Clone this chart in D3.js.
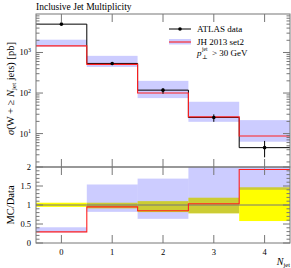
<!DOCTYPE html>
<html>
<head>
<meta charset="utf-8">
<script src="https://cdn.jsdelivr.net/npm/d3@7"></script>
<style>
  body { margin: 0; background: #fff; }
  svg { font-family: "Liberation Serif", "DejaVu Serif", serif; }
  .frame { fill: none; stroke: #777; stroke-width: 1; }
</style>
</head>
<body>
<svg id="chart" width="291" height="268"></svg>
<script>
// jet multiplicity bins
const bins = [0, 1, 2, 3, 4];
const binEdges = [-0.5, 0.5, 1.5, 2.5, 3.5, 4.5];

// ATLAS data [pb] and its error range
const dataVal = [5000, 537, 118, 25, 4.5];
const dataUp = [5300, 569, 130, 29.8, 6.6];
const dataDown = [4750, 489, 96, 19.5, 2.6];

// JH 2013 set2 prediction and its band
const mcVal = [1460, 510, 100, 25.8, 8.7];
const mcUp = [2070, 827, 200, 61, 21.5];
const mcDown = [1400, 440, 75, 19.5, 6.3];

const xTicks = [0, 1, 2, 3, 4];
const ratioTicks = [0, 0.5, 1, 1.5, 2];
const ratioTickLabels = ["0", "0.5", "1", "1.5", "2"];
const logMajor = [1, 2, 3];

const padL = 36, padR = 290, padT = 14, midY = 167, padB = 243;

const svg = d3.select("#chart");
const x = d3.scaleLinear().domain([-0.5, 4.5]).range([padL, padR]);
const yTop = d3.scaleLog().domain([1.5, 8900]).range([midY, padT]);
const yRat = d3.scaleLinear().domain([0, 2]).range([padB, midY]);

// clip paths
const defs = svg.append("defs");
defs.append("clipPath").attr("id", "clipTop").append("rect")
  .attr("x", padL).attr("y", padT).attr("width", padR - padL).attr("height", midY - padT);
defs.append("clipPath").attr("id", "clipRat").append("rect")
  .attr("x", padL).attr("y", midY).attr("width", padR - padL).attr("height", padB - midY);

const stepPts = (vals) => {
  const pts = vals.map((v, i) => [binEdges[i], v]);
  pts.push([binEdges[vals.length], vals[vals.length - 1]]);
  return pts;
};

// ---------- top panel ----------
const gTop = svg.append("g").attr("clip-path", "url(#clipTop)");

gTop.selectAll(".mcband").data(bins).enter().append("rect")
  .attr("x", (d, i) => x(binEdges[i]))
  .attr("width", (d, i) => x(binEdges[i + 1]) - x(binEdges[i]))
  .attr("y", (d, i) => yTop(mcUp[i]))
  .attr("height", (d, i) => yTop(mcDown[i]) - yTop(mcUp[i]))
  .attr("fill", "rgba(0,0,255,0.2)");

const lineTop = d3.line().x(d => x(d[0])).y(d => yTop(d[1])).curve(d3.curveStepAfter);

gTop.append("path").attr("d", lineTop(stepPts(dataVal)))
  .attr("fill", "none").attr("stroke", "#000").attr("stroke-width", 1);
gTop.append("path").attr("d", lineTop(stepPts(mcVal)))
  .attr("fill", "none").attr("stroke", "#ff2020").attr("stroke-width", 1.1);

gTop.selectAll(".err").data(bins).enter().append("line")
  .attr("x1", d => x(d)).attr("x2", d => x(d))
  .attr("y1", (d, i) => yTop(dataUp[i])).attr("y2", (d, i) => yTop(dataDown[i]))
  .attr("stroke", "#000");
gTop.selectAll(".pt").data(bins).enter().append("circle")
  .attr("cx", d => x(d)).attr("cy", (d, i) => yTop(dataVal[i])).attr("r", 1.8)
  .attr("fill", "#000");

// ---------- ratio panel ----------
const gRat = svg.append("g").attr("clip-path", "url(#clipRat)");

gRat.selectAll(".dband").data(bins).enter().append("rect")
  .attr("x", (d, i) => x(binEdges[i]))
  .attr("width", (d, i) => x(binEdges[i + 1]) - x(binEdges[i]))
  .attr("y", (d, i) => yRat(dataUp[i] / dataVal[i]))
  .attr("height", (d, i) => yRat(dataDown[i] / dataVal[i]) - yRat(dataUp[i] / dataVal[i]))
  .attr("fill", "#ffff00");

gRat.selectAll(".rband").data(bins).enter().append("rect")
  .attr("x", (d, i) => x(binEdges[i]))
  .attr("width", (d, i) => x(binEdges[i + 1]) - x(binEdges[i]))
  .attr("y", (d, i) => yRat(mcUp[i] / dataVal[i]))
  .attr("height", (d, i) => yRat(mcDown[i] / dataVal[i]) - yRat(mcUp[i] / dataVal[i]))
  .attr("fill", "rgba(0,0,255,0.2)");

gRat.append("line").attr("x1", padL).attr("x2", padR)
  .attr("y1", yRat(1)).attr("y2", yRat(1)).attr("stroke", "#777");

const lineRat = d3.line().x(d => x(d[0])).y(d => yRat(d[1])).curve(d3.curveStepAfter);
gRat.append("path").attr("d", lineRat(stepPts(mcVal.map((v, i) => v / dataVal[i]))))
  .attr("fill", "none").attr("stroke", "#ff2020").attr("stroke-width", 1.1);

// ---------- frames and ticks ----------
svg.append("rect").attr("class", "frame")
  .attr("x", padL).attr("y", padT).attr("width", padR - padL).attr("height", midY - padT);
svg.append("rect").attr("class", "frame")
  .attr("x", padL).attr("y", midY).attr("width", padR - padL).attr("height", padB - midY);

const tickG = svg.append("g").attr("stroke", "#777").attr("stroke-width", 1);
const tick = (x1, y1, x2, y2) => tickG.append("line")
  .attr("x1", x1).attr("y1", y1).attr("x2", x2).attr("y2", y2);

xTicks.forEach(t => {
  const xp = x(t);
  tick(xp, padT, xp, padT + 8);
  tick(xp, midY - 8, xp, midY + 8);
  tick(xp, padB, xp, padB - 8);
});

// log ticks
const [lo, hi] = yTop.domain();
for (let e = -1; e <= 4; e++) {
  for (let m = 1; m <= 9; m++) {
    const v = m * Math.pow(10, e);
    if (v < lo || v > hi) continue;
    const len = m === 1 ? 7 : 3.5;
    tick(padL, yTop(v), padL + len, yTop(v));
    tick(padR, yTop(v), padR - len, yTop(v));
  }
}
// ratio ticks
for (let k = 0; k <= 20; k++) {
  const v = k / 10;
  const len = k % 5 === 0 ? 7 : 3.5;
  tick(padL, yRat(v), padL + len, yRat(v));
  tick(padR, yRat(v), padR - len, yRat(v));
}

// ---------- labels ----------
const fs = 8.5;
const logLabels = svg.selectAll(".ylab").data(logMajor).enter().append("text")
  .attr("x", padL - 5).attr("y", d => yTop(Math.pow(10, d)) + 3)
  .attr("text-anchor", "end").attr("font-size", fs);
logLabels.append("tspan").text("10");
logLabels.append("tspan").attr("dy", -3.5).attr("font-size", 6).text(d => d);

svg.selectAll(".rlab").data(ratioTicks).enter().append("text")
  .attr("x", padL - 5).attr("y", d => yRat(d) + 3)
  .attr("text-anchor", "end").attr("font-size", fs)
  .text((d, i) => ratioTickLabels[i]);

svg.selectAll(".xlab").data(xTicks).enter().append("text")
  .attr("x", d => x(d)).attr("y", 255)
  .attr("text-anchor", "middle").attr("font-size", fs)
  .text(d => d);

const xl = svg.append("text").attr("x", padR).attr("y", 265)
  .attr("text-anchor", "end").attr("font-size", 10);
xl.append("tspan").attr("font-style", "italic").text("N");
xl.append("tspan").attr("dy", 2).attr("font-size", 6.5).text("jet");

svg.append("text").attr("x", padL).attr("y", 10).attr("font-size", 9.5)
  .text("Inclusive Jet Multiplicity");

const yl = svg.append("text").attr("transform", `translate(14,${(padT + midY) / 2 - 2}) rotate(-90)`)
  .attr("text-anchor", "middle").attr("font-size", 10.5);
yl.append("tspan").attr("font-style", "italic").text("σ");
yl.append("tspan").text("(W + ≥ ");
yl.append("tspan").attr("font-style", "italic").text("N");
yl.append("tspan").attr("dy", 2).attr("font-size", 7).text("jet");
yl.append("tspan").attr("dy", -2).text(" jets) [pb]");

svg.append("text").attr("transform", `translate(14,${(midY + padB) / 2}) rotate(-90)`)
  .attr("text-anchor", "middle").attr("font-size", 10.5).text("MC/Data");

// ---------- legend ----------
const lx0 = 169, lx1 = 191, tx = 197;
svg.append("line").attr("x1", lx0).attr("x2", lx1).attr("y1", 29).attr("y2", 29)
  .attr("stroke", "#000");
svg.append("circle").attr("cx", (lx0 + lx1) / 2).attr("cy", 29).attr("r", 1.8).attr("fill", "#000");
svg.append("text").attr("x", tx).attr("y", 32).attr("font-size", 9).text("ATLAS data");

svg.append("rect").attr("x", lx0).attr("y", 39).attr("width", lx1 - lx0).attr("height", 5.5)
  .attr("fill", "rgba(0,0,255,0.2)");
svg.append("line").attr("x1", lx0).attr("x2", lx1).attr("y1", 42).attr("y2", 42)
  .attr("stroke", "#ff2020").attr("stroke-width", 1.1);
svg.append("text").attr("x", tx).attr("y", 45).attr("font-size", 9).text("JH 2013 set2");

// p_perp^jet > 30 GeV, built from separate pieces
svg.append("text").attr("x", tx).attr("y", 56).attr("font-size", 9)
  .attr("font-style", "italic").text("p");
svg.append("text").attr("x", tx + 5).attr("y", 50.5).attr("font-size", 5.5).text("jet");
svg.append("text").attr("x", tx + 5).attr("y", 59).attr("font-size", 6).text("⊥");
svg.append("text").attr("x", tx + 15).attr("y", 56).attr("font-size", 9).text("> 30 GeV");
</script>
</body>
</html>
